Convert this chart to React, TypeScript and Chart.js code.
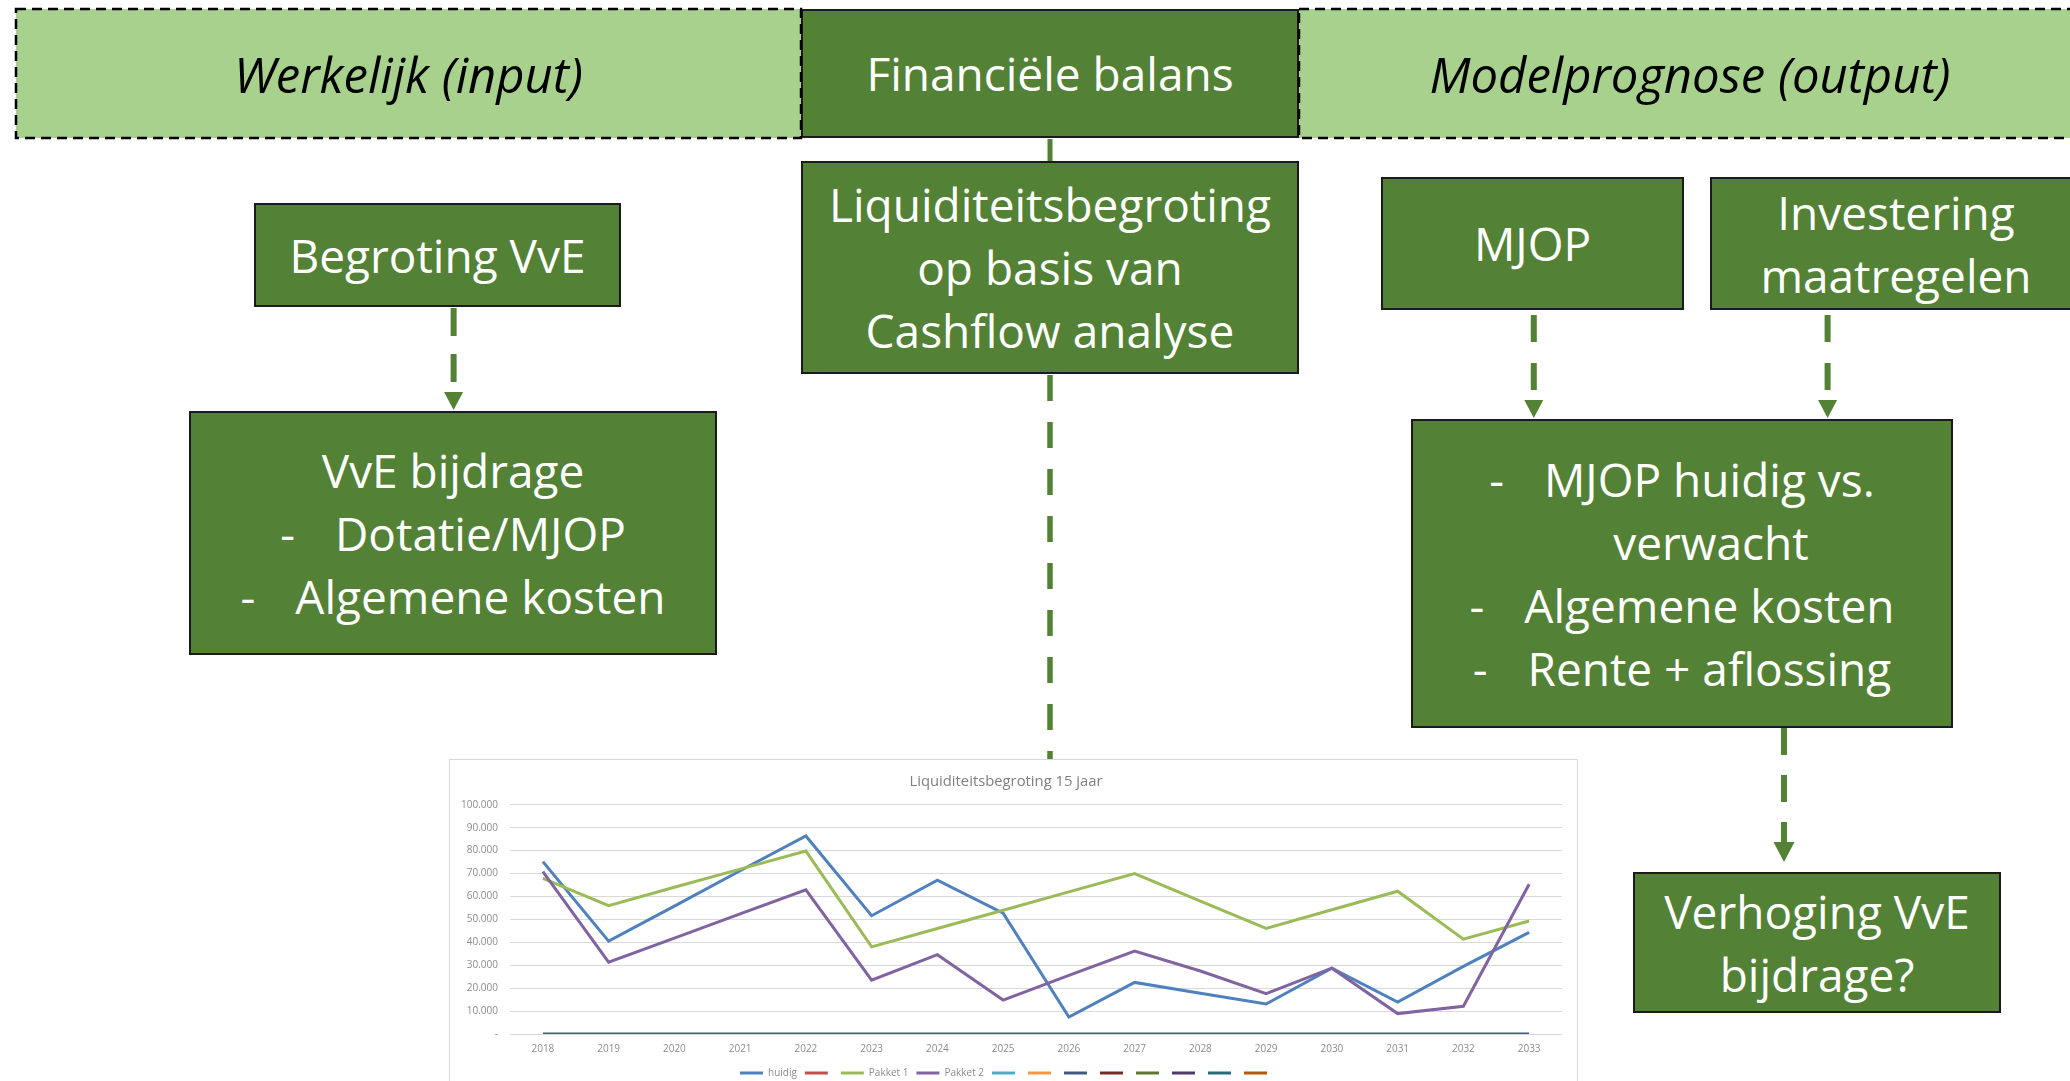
import React, { useEffect, useRef } from 'react';
import { Chart, registerables } from 'chart.js';

Chart.register(...registerables);

// ---------- chart data ----------
const years = ['2018', '2019', '2020', '2021', '2022', '2023', '2024', '2025', '2026', '2027', '2028', '2029', '2030', '2031', '2032', '2033'];
const huidig = [75200, 40500, 55800, 71200, 86400, 51600, 67100, 52700, 7400, 22500, 17800, 13100, 28700, 13900, 29500, 44300];
const pakket1 = [67900, 56000, 64000, 71900, 79800, 38000, 46000, 54000, 62000, 70000, 58000, 46100, 54200, 62300, 41400, 49300];
const pakket2 = [70800, 31300, 41800, 52400, 62900, 23500, 34600, 14800, 25600, 36200, 27500, 17600, 28700, 8900, 12100, 65300];
const nulLijn = [0, 0, 0, 0, 0, 0, 0, 0, 0, 0, 0, 0, 0, 0, 0, 0];
const seriesNames = ['huidig', '', 'Pakket 1', 'Pakket 2', '', '', '', '', '', '', '', ''];
const seriesColors = ['#4f81bd', '#c0504d', '#9bbb59', '#8064a2', '#4bacc6', '#f79646', '#3e5a80', '#772c2a', '#5f7530', '#4d3b62', '#276a7c', '#b65708'];
const yTickLabels = ['-', '10.000', '20.000', '30.000', '40.000', '50.000', '60.000', '70.000', '80.000', '90.000', '100.000'];
const chartTitle = 'Liquiditeitsbegroting 15 jaar';

const GREEN = '#538135';
const LIGHT = '#a9d18e';
const FONT = "'Open Sans', 'DejaVu Sans', sans-serif";
const BOX_FONT = 46;
const HEAD_FONT = 49;

function LiquidityChart() {
  const ref = useRef<HTMLCanvasElement>(null);
  useEffect(() => {
    if (!ref.current) return;
    const seriesData: number[][] = [huidig, [], pakket1, pakket2, [], [], nulLijn, [], [], [], [], []];
    const tickFont = { family: 'Open Sans', size: 10 };
    const chart = new Chart(ref.current, {
      type: 'line',
      data: {
        labels: years,
        datasets: seriesNames.map((name, i) => ({
          label: name,
          data: seriesData[i],
          borderColor: seriesColors[i],
          backgroundColor: seriesColors[i],
          borderWidth: 3,
          pointRadius: 0,
          pointHoverRadius: 0,
          tension: 0,
          fill: false,
          order: seriesNames.length - i,
        })),
      },
      options: {
        animation: false,
        responsive: false,
        maintainAspectRatio: false,
        events: [],
        layout: { padding: { left: 0, right: 15, top: 0, bottom: 10 } },
        plugins: {
          title: {
            display: true,
            text: chartTitle,
            color: '#808080',
            font: { family: 'Open Sans', size: 14.8, weight: 'normal' },
            padding: { top: 13, bottom: 14 },
          },
          legend: {
            position: 'bottom',
            labels: {
              usePointStyle: true,
              pointStyle: 'line',
              pointStyleWidth: 23,
              padding: 8,
              color: '#8c8c8c',
              font: tickFont,
              sort: (a: any, b: any) => a.datasetIndex - b.datasetIndex,
            },
          },
          tooltip: { enabled: false },
        },
        scales: {
          x: {
            offset: true,
            grid: { display: false, drawTicks: false },
            border: { display: false },
            ticks: { color: '#8c8c8c', font: tickFont, padding: 9, maxRotation: 0, autoSkip: false },
            afterFit: (s: any) => { s.height = 26; },
          },
          y: {
            min: 0,
            max: 100000,
            grid: { color: '#d9d9d9', lineWidth: 1, drawTicks: false },
            border: { display: false },
            ticks: {
              stepSize: 10000,
              padding: 12,
              color: '#8c8c8c',
              font: tickFont,
              callback: (_v: any, i: number) => yTickLabels[i],
            },
            afterFit: (s: any) => { s.width = 60; },
          },
        },
      } as any,
    });
    return () => chart.destroy();
  }, []);
  return (
    <canvas
      ref={ref}
      width={1127}
      height={338}
      style={{ position: 'absolute', left: 0, top: 0, width: 1127, height: 338 }}
    />
  );
}

type BoxProps = { left: number; top: number; width: number; height: number; children: React.ReactNode };

function Box({ left, top, width, height, children }: BoxProps) {
  return (
    <div
      style={{
        position: 'absolute',
        left,
        top,
        width,
        height,
        boxSizing: 'border-box',
        background: GREEN,
        border: '2.5px solid #1b1b1b',
        display: 'flex',
        flexDirection: 'column',
        alignItems: 'center',
        justifyContent: 'center',
        color: '#ffffff',
        fontFamily: FONT,
        fontSize: BOX_FONT,
        lineHeight: '63px',
        textAlign: 'center',
        whiteSpace: 'nowrap',
      }}
    >
      {children}
    </div>
  );
}

function Bullet({ text, gap = 40 }: { text: string; gap?: number }) {
  return (
    <div>
      <span>-</span>
      <span style={{ display: 'inline-block', width: gap }} />
      {text}
    </div>
  );
}

function Arrow({ x, y1, y2, tip, half, dash }: { x: number; y1: number; y2: number; tip: number; half: number; dash: string }) {
  const base = tip - half * 1.9;
  return (
    <g>
      <line x1={x} y1={y1} x2={x} y2={y2} stroke={GREEN} strokeWidth={6} strokeDasharray={dash} />
      <polygon points={`${x - half},${base} ${x + half},${base} ${x},${tip}`} fill={GREEN} />
    </g>
  );
}

export default function App() {
  return (
    <div
      style={{
        position: 'fixed',
        left: 0,
        top: 0,
        width: 2070,
        height: 1081,
        overflow: 'hidden',
        background: '#ffffff',
        fontFamily: FONT,
      }}
    >
      {/* header band */}
      <div
        style={{
          position: 'absolute', left: 16, top: 9, width: 785, height: 129, background: LIGHT,
          display: 'flex', alignItems: 'center', justifyContent: 'center',
          fontSize: HEAD_FONT, fontStyle: 'italic', color: '#000', whiteSpace: 'nowrap',
        }}
      >
        Werkelijk (input)
      </div>
      <div
        style={{
          position: 'absolute', left: 1299, top: 9, width: 782, height: 129, background: LIGHT,
          display: 'flex', alignItems: 'center', justifyContent: 'center',
          fontSize: HEAD_FONT, fontStyle: 'italic', color: '#000', whiteSpace: 'nowrap',
        }}
      >
        Modelprognose (output)
      </div>
      <Box left={801} top={9} width={498} height={129}>
        <div>Financiële balans</div>
      </Box>

      {/* left column */}
      <Box left={254} top={203} width={367} height={104}>
        <div>Begroting VvE</div>
      </Box>
      <Box left={189} top={411} width={528} height={244}>
        <div>VvE bijdrage</div>
        <Bullet text="Dotatie/MJOP" />
        <Bullet text="Algemene kosten" />
      </Box>

      {/* middle column */}
      <Box left={801} top={161} width={498} height={213}>
        <div>Liquiditeitsbegroting</div>
        <div>op basis van</div>
        <div>Cashflow analyse</div>
      </Box>

      {/* right column */}
      <Box left={1381} top={177} width={303} height={133}>
        <div>MJOP</div>
      </Box>
      <Box left={1710} top={177} width={372} height={133}>
        <div>Investering</div>
        <div>maatregelen</div>
      </Box>
      <Box left={1411} top={419} width={542} height={309}>
        <Bullet text="MJOP huidig vs." />
        <div style={{ paddingLeft: 58 }}>verwacht</div>
        <Bullet text="Algemene kosten" />
        <Bullet text="Rente + aflossing" />
      </Box>
      <Box left={1633} top={872} width={368} height={141}>
        <div>Verhoging VvE</div>
        <div>bijdrage?</div>
      </Box>

      {/* connectors and dashed header borders */}
      <svg
        width={2070}
        height={1081}
        style={{ position: 'absolute', left: 0, top: 0, pointerEvents: 'none' }}
      >
        <rect x={16} y={9} width={785} height={129} fill="none" stroke="#000" strokeWidth={2.5} strokeDasharray="10 6" />
        <rect x={1299} y={9} width={790} height={129} fill="none" stroke="#000" strokeWidth={2.5} strokeDasharray="10 6" />
        <line x1={1050} y1={139} x2={1050} y2={161} stroke={GREEN} strokeWidth={5} />
        <line x1={1050} y1={375} x2={1050} y2={759} stroke={GREEN} strokeWidth={5.5} strokeDasharray="26 21" />
        <Arrow x={453.6} y1={308} y2={392} tip={410} half={9.5} dash="28 18" />
        <Arrow x={1533.8} y1={315} y2={400} tip={418} half={9.5} dash="27 21" />
        <Arrow x={1827.6} y1={315} y2={400} tip={418} half={9.5} dash="27 21" />
        <Arrow x={1784} y1={728} y2={845} tip={862} half={10.5} dash="27 20" />
      </svg>

      {/* embedded chart */}
      <div
        style={{
          position: 'absolute',
          left: 449,
          top: 759,
          width: 1129,
          height: 340,
          boxSizing: 'border-box',
          border: '1px solid #d9d9d9',
          background: '#ffffff',
        }}
      >
        <LiquidityChart />
      </div>
    </div>
  );
}
